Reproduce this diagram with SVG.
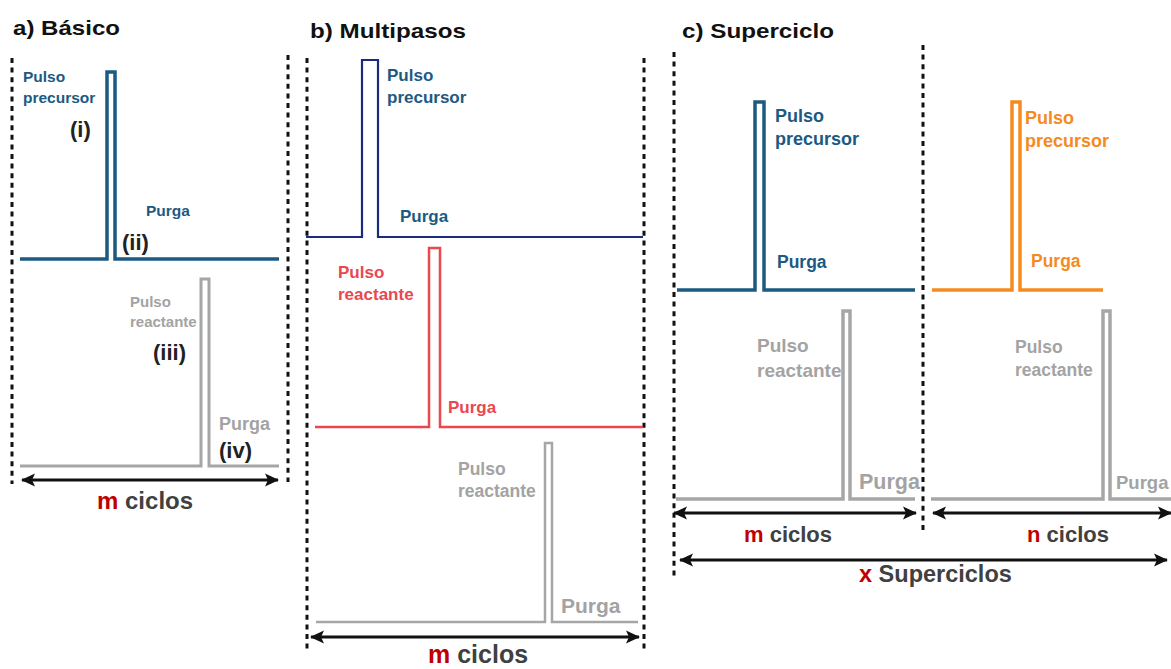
<svg xmlns="http://www.w3.org/2000/svg" width="1171" height="669" viewBox="0 0 1171 669">
<defs>
<marker id="ah" viewBox="0 0 14 14" markerUnits="userSpaceOnUse" markerWidth="14" markerHeight="14" refX="13" refY="7" orient="auto-start-reverse">
<path d="M0,0.5 L14,7 L0,13.5 L3,7 z" fill="#111"/>
</marker>
<style>
text{font-family:"Liberation Sans",Arial,sans-serif;font-weight:bold}
.title{font-size:21px;fill:#111}
.dot{stroke:#111;stroke-width:3;stroke-dasharray:5 4.6;fill:none}
.tr{fill:none;stroke-linejoin:miter;stroke-linecap:butt}
.teal{stroke:#1c5a82}
.navy{stroke:#1b2a7c}
.red{stroke:#e9484f}
.orange{stroke:#f58a1f}
.gray{stroke:#a6a6a6}
.tTeal{fill:#1c5a82}
.tRed{fill:#e9484f}
.tOrange{fill:#f58a1f}
.tGray{fill:#a3a3a3}
.roman{fill:#222;font-size:22px}
.arr{stroke:#111;stroke-width:3.2;fill:none;marker-start:url(#ah);marker-end:url(#ah)}
.m{fill:#c00000}
.cyc{fill:#404040}
</style>
</defs>

<!-- Panel a -->
<g id="panel-a">
<text class="title" x="13" y="35" textLength="107" lengthAdjust="spacingAndGlyphs">a) Básico</text>
<line class="dot" x1="12" y1="58" x2="12" y2="484"/>
<line class="dot" x1="288" y1="55" x2="288" y2="482"/>
</g>
<g id="a-precursor">
<polyline class="tr teal" stroke-width="3.5" points="20,259 107,259 107,72 115,72 115,259 279,259"/>
<text class="tTeal" font-size="15.5" x="23" y="82">Pulso</text>
<text class="tTeal" font-size="15.5" x="23" y="103">precursor</text>
<text class="roman" x="70" y="137">(i)</text>
<text class="tTeal" font-size="15.5" x="146" y="216">Purga</text>
<text class="roman" x="122" y="250">(ii)</text>
</g>
<g id="a-reactante">
<polyline class="tr gray" stroke-width="3" points="20,466 201,466 201,279 209,279 209,466 279,466"/>
<text class="tGray" font-size="15" x="130" y="307">Pulso</text>
<text class="tGray" font-size="15" x="130" y="327">reactante</text>
<text class="roman" x="153" y="360">(iii)</text>
<text class="tGray" font-size="18" x="219" y="430">Purga</text>
<text class="roman" x="219" y="458">(iv)</text>
</g>
<g id="a-label">
<text font-size="24" x="97" y="509"><tspan class="m">m</tspan><tspan class="cyc"> ciclos</tspan></text>
</g>

<!-- Panel b -->
<g id="panel-b">
<text class="title" x="310" y="38" textLength="156" lengthAdjust="spacingAndGlyphs">b) Multipasos</text>
<line class="dot" x1="307" y1="58" x2="307" y2="652"/>
<line class="dot" x1="644" y1="58" x2="644" y2="652"/>
</g>
<g id="b-precursor">
<polyline class="tr navy" stroke-width="2.2" points="306,237 362,237 362,60 378,60 378,237 643,237"/>
<text class="tTeal" font-size="17" x="387" y="81">Pulso</text>
<text class="tTeal" font-size="17" x="387" y="103">precursor</text>
<text class="tTeal" font-size="17" x="400" y="222">Purga</text>
</g>
<g id="b-reactante-1">
<polyline class="tr red" stroke-width="2.5" points="315,427 429,427 429,248 440,248 440,427 643,427"/>
<text class="tRed" font-size="17" x="338" y="278">Pulso</text>
<text class="tRed" font-size="17" x="338" y="300">reactante</text>
<text class="tRed" font-size="17" x="448" y="413">Purga</text>
</g>
<g id="b-reactante-2">
<polyline class="tr gray" stroke-width="2.5" points="316,622 545,622 545,443 552,443 552,622 638,622"/>
<text class="tGray" font-size="17.5" x="458" y="475">Pulso</text>
<text class="tGray" font-size="17.5" x="458" y="497">reactante</text>
<text class="tGray" font-size="21" x="561" y="613">Purga</text>
</g>
<g id="b-label">
<text font-size="25" x="428" y="663"><tspan class="m">m</tspan><tspan class="cyc"> ciclos</tspan></text>
</g>

<!-- Panel c -->
<g id="panel-c">
<text class="title" x="682" y="38" textLength="152" lengthAdjust="spacingAndGlyphs">c) Superciclo</text>
<line class="dot" x1="674" y1="52" x2="674" y2="580"/>
<line class="dot" x1="923" y1="45" x2="923" y2="532"/>
</g>
<g id="c-precursor-m">
<polyline class="tr teal" stroke-width="3.5" points="677,290 755,290 755,102 764,102 764,290 915,290"/>
<text class="tTeal" font-size="18" x="775" y="122">Pulso</text>
<text class="tTeal" font-size="18" x="775" y="145">precursor</text>
<text class="tTeal" font-size="17.5" x="777" y="268">Purga</text>
</g>
<g id="c-precursor-n">
<polyline class="tr orange" stroke-width="3.5" points="932,290 1012,290 1012,102 1020,102 1020,290 1103,290"/>
<text class="tOrange" font-size="18" x="1025" y="124">Pulso</text>
<text class="tOrange" font-size="18" x="1025" y="147">precursor</text>
<text class="tOrange" font-size="17.5" x="1031" y="267">Purga</text>
</g>
<g id="c-reactante-m">
<polyline class="tr gray" stroke-width="3.5" points="676,499 843,499 843,311 850,311 850,499 915,499"/>
<text class="tGray" font-size="19" x="757" y="352">Pulso</text>
<text class="tGray" font-size="19" x="757" y="377">reactante</text>
<text class="tGray" font-size="21.5" x="859" y="489">Purga</text>
</g>
<g id="c-reactante-n">
<polyline class="tr gray" stroke-width="3.5" points="931,499 1103,499 1103,311 1110,311 1110,499 1171,499"/>
<text class="tGray" font-size="17.5" x="1015" y="353">Pulso</text>
<text class="tGray" font-size="17.5" x="1015" y="376">reactante</text>
<text class="tGray" font-size="18.5" x="1116" y="489">Purga</text>
</g>
<g id="c-labels">
<text font-size="22" x="744" y="542"><tspan class="m">m</tspan><tspan class="cyc"> ciclos</tspan></text>
<text font-size="22" x="1027" y="542"><tspan class="m">n</tspan><tspan class="cyc"> ciclos</tspan></text>
<text font-size="23.5" x="859" y="582"><tspan class="m">x</tspan><tspan class="cyc"> Superciclos</tspan></text>
</g>

<g id="connectors">
<line class="arr" x1="22" y1="480" x2="278" y2="480"/>
<line class="arr" x1="311" y1="637" x2="639" y2="637"/>
<line class="arr" x1="674" y1="513" x2="916" y2="513"/>
<line class="arr" x1="933" y1="513" x2="1171" y2="513"/>
<line class="arr" x1="680" y1="560" x2="1167" y2="560"/>
</g>
</svg>
